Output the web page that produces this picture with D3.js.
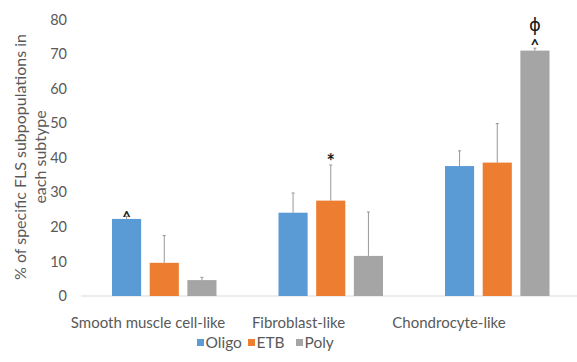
<!DOCTYPE html>
<html><head><meta charset="utf-8">
<script src="https://cdn.jsdelivr.net/npm/d3@7"></script>
<style>
html,body{margin:0;padding:0;background:#fff;}
text{font-family:Lato,"Open Sans",sans-serif;}
</style></head>
<body><svg id="c" width="577" height="362"></svg>
<script>
const categories = ["Smooth muscle cell-like", "Fibroblast-like", "Chondrocyte-like"];
const seriesNames = ["Oligo", "ETB", "Poly"];
const oligo = [22.3, 24.1, 37.6];
const etb = [9.6, 27.6, 38.6];
const poly = [4.6, 11.6, 71.0];
const oligoErr = [0.7, 5.7, 4.4];
const etbErr = [7.9, 10.3, 11.3];
const polyErr = [0.8, 12.7, 0.7];
const yTicks = [0, 10, 20, 30, 40, 50, 60, 70, 80];
const annotations = [
  {cat: 0, series: "Oligo", text: "^"},
  {cat: 1, series: "ETB", text: "*"},
  {cat: 2, series: "Poly", text: "^"},
  {cat: 2, series: "Poly", text: "\u03D5"}
];
const yTitle = ["% of specific FLS subpopulations in", "each subtype"];

const colors = {Oligo: "#5B9BD5", ETB: "#ED7D31", Poly: "#A5A5A5"};
const values = {Oligo: oligo, ETB: etb, Poly: poly};
const errs = {Oligo: oligoErr, ETB: etbErr, Poly: polyErr};
// annotation styling: [dy from error top, font-size, family, weight]
const annotStyle = [
  [5.5, 15, "Lato", 700],
  [3.5, 20, "Lato", 700],
  [1.5, 15, "Lato", 700],
  [-17, 18, "DejaVu Sans", 400]
];

const svg = d3.select("#c");
const x0 = d3.scaleBand().domain(categories).range([81, 580.5]).padding(0);
const x1 = d3.scaleBand().domain(seriesNames).range([31, 135.5]).paddingInner(0.227).paddingOuter(0);
const y = d3.scaleLinear().domain([0, 80]).range([296, 19.5]);
const labelX = d3.scaleBand().domain(categories).range([72.75, 524.25]);

const textColor = "#595959";

svg.append("line").attr("x1", 81).attr("x2", 577).attr("y1", y(0)).attr("y2", y(0))
  .attr("stroke", "#D9D9D9").attr("stroke-width", 1);

const yAxis = d3.axisLeft(y).tickValues(yTicks).tickSize(0).tickPadding(0);
const gy = svg.append("g").attr("transform", "translate(67,0)").call(yAxis);
gy.select(".domain").remove();
gy.selectAll("text").attr("fill", textColor).style("font-size", "14.5px").style("font-family", "Lato");

const rows = [];
categories.forEach((c, i) => seriesNames.forEach(s => rows.push({c, i, s, v: values[s][i], e: errs[s][i]})));
svg.append("g").selectAll("rect").data(rows).join("rect")
  .attr("x", d => x0(d.c) + x1(d.s))
  .attr("width", x1.bandwidth())
  .attr("y", d => y(d.v))
  .attr("height", d => y(0) - y(d.v))
  .attr("fill", d => colors[d.s]);

const eg = svg.append("g").attr("stroke", "#8c8c8c").attr("stroke-width", 0.9);
rows.forEach(d => {
  const cx = x0(d.c) + x1(d.s) + x1.bandwidth() / 2;
  eg.append("line").attr("x1", cx).attr("x2", cx).attr("y1", y(d.v)).attr("y2", y(d.v + d.e));
  eg.append("line").attr("x1", cx - 1.5).attr("x2", cx + 1.5).attr("y1", y(d.v + d.e)).attr("y2", y(d.v + d.e));
});

annotations.forEach((a, k) => {
  const st = annotStyle[k];
  const c = categories[a.cat];
  const cx = x0(c) + x1(a.series) + x1.bandwidth() / 2;
  const top = y(values[a.series][a.cat] + errs[a.series][a.cat]);
  svg.append("text").attr("x", cx).attr("y", top + st[0])
    .attr("text-anchor", "middle").attr("fill", "#1a1a1a")
    .style("font-size", st[1] + "px").style("font-family", st[2]).style("font-weight", st[3])
    .text(a.text);
});

svg.append("g").selectAll("text").data(categories).join("text")
  .attr("x", d => labelX(d) + labelX.bandwidth() / 2)
  .attr("y", 328)
  .attr("text-anchor", "middle").attr("fill", textColor)
  .style("font-size", "15px")
  .text(d => d);

const tt = svg.append("text").attr("transform", "translate(25.5,157) rotate(-90)")
  .attr("text-anchor", "middle").attr("fill", textColor).style("font-size", "16px");
tt.append("tspan").attr("x", 0).attr("dy", 0).text(yTitle[0]);
tt.append("tspan").attr("x", 0).attr("dy", 20).text(yTitle[1]);

const legendX = [197, 248, 296];
const lg = svg.append("g");
seriesNames.forEach((s, i) => {
  lg.append("rect").attr("x", legendX[i]).attr("y", 339).attr("width", 7).attr("height", 7).attr("fill", colors[s]);
  lg.append("text").attr("x", legendX[i] + 8.5).attr("y", 348).attr("fill", textColor).style("font-size", "15.5px").text(s);
});
</script></body></html>
